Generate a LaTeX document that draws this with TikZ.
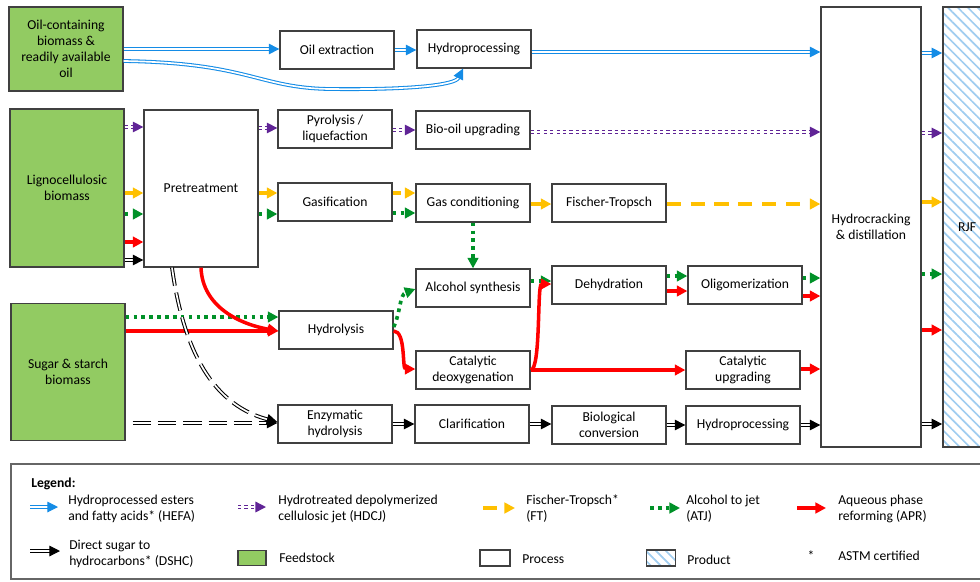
\documentclass[tikz,border=0pt]{standalone}
\usepackage{fontspec}
\setmainfont{Carlito}
\usepackage{tikz}
\usetikzlibrary{arrows.meta,patterns.meta}
\definecolor{feedgreen}{RGB}{146,203,98}
\definecolor{boxgray}{RGB}{64,64,64}
\definecolor{hefablue}{RGB}{20,140,230}
\definecolor{hdcjpurple}{RGB}{96,36,150}
\definecolor{ftorange}{RGB}{255,192,0}
\definecolor{atjgreen}{RGB}{0,145,40}
\definecolor{aprred}{RGB}{255,0,0}
\definecolor{hatchblue}{RGB}{160,205,240}
\tikzstyle{box}=[draw=boxgray,line width=0.9pt,align=center,inner sep=2pt]
\tikzstyle{proc}=[box,fill=white,minimum width=2.85cm,minimum height=0.95cm]
\tikzstyle{feed}=[box,fill=feedgreen,minimum width=2.85cm]
\tikzstyle{prod}=[box,pattern={Lines[angle=-45,distance=5pt,line width=1.2pt]},pattern color=hatchblue]
\tikzstyle{tip}=[-{Triangle[length=7.5pt,width=7.5pt]}]
\tikzstyle{hefa}=[tip,draw=hefablue,double=white,line width=0.75pt,double distance=1.2pt]
\tikzstyle{hdcj}=[tip,draw=hdcjpurple,double=white,line width=1pt,double distance=1pt,dash pattern=on 2.4pt off 2.2pt]
\tikzstyle{ft}=[tip,draw=ftorange,line width=2.5pt]
\tikzstyle{atj}=[tip,draw=atjgreen,line width=2.6pt,dash pattern=on 2.6pt off 3pt]
\tikzstyle{apr}=[tip,draw=aprred,line width=2.5pt]
\tikzstyle{dshc}=[tip,draw=black,double=white,line width=0.75pt,double distance=1.2pt]
\tikzstyle{legtext}=[anchor=west,align=left,inner sep=0pt]

\begin{document}
\begin{tikzpicture}[x=0.025cm,y=-0.025cm,font=\fontsize{9.7}{11.3}\selectfont]
\useasboundingbox (0,0) rectangle (980,581);
\clip (0,0) rectangle (980,581);

% feedstocks
\node[feed,minimum height=2.1cm] (oil) at (66,49) {Oil-containing\\biomass \&\\readily available\\oil};
\node[feed,minimum height=3.95cm] (ligno) at (67,188) {Lignocellulosic\\biomass};
\node[feed,minimum height=3.425cm] (sugar) at (68,372) {Sugar \& starch\\biomass};

% processes
\node[proc,minimum height=3.925cm] (pretreat) at (201,188.5) {Pretreatment};
\node[proc] (oilext) at (337,50) {Oil extraction};
\node[proc] (hydroA) at (474,49) {Hydroprocessing};
\node[proc] (pyro) at (335,129) {Pyrolysis /\\liquefaction};
\node[proc] (biooil) at (473,130) {Bio-oil upgrading};
\node[proc] (gasif) at (335,202) {Gasification};
\node[proc] (gascond) at (473,203) {Gas conditioning};
\node[proc] (ftproc) at (609,203) {Fischer-Tropsch};
\node[proc] (alcsyn) at (473,288) {Alcohol synthesis};
\node[proc] (dehyd) at (609,285) {Dehydration};
\node[proc] (hydrol) at (336,330) {Hydrolysis};
\node[proc] (catdeox) at (473,370) {Catalytic\\deoxygenation};
\node[proc] (enzym) at (335,424) {Enzymatic\\hydrolysis};
\node[proc] (clar) at (472,424) {Clarification};
\node[proc] (bioconv) at (609,425) {Biological\\conversion};
\node[proc] (oligo) at (745,285) {Oligomerization};
\node[proc] (catupg) at (743,370) {Catalytic\\upgrading};
\node[proc] (hydroB) at (743,425) {Hydroprocessing};
\node[proc,minimum width=2.5cm,minimum height=11cm] (hcd) at (871,227) {Hydrocracking\\\& distillation};
\node[prod,minimum width=1.2cm,minimum height=11cm] (rjf) at (967,227) {RJF};

% HEFA
\foreach \a/\b/\y in {oil/oilext/49, oilext/hydroA/50, hydroA/hcd/52, hcd/rjf/53}
  \draw[hefa] (\a.east |- 0,\y) -- (\b.west |- 0,\y);
\draw[hefa] (oil.east |- 0,61) .. controls (250,63) and (258,88) .. (330,89)
  .. controls (410,90) and (455,85) .. (hydroA.south -| 463,0);

% HDCJ
\foreach \a/\b/\y in {ligno/pretreat/127, pretreat/pyro/128, pyro/biooil/130, biooil/hcd/132, hcd/rjf/133}
  \draw[hdcj] (\a.east |- 0,\y) -- (\b.west |- 0,\y);

% FT
\foreach \a/\b/\y in {ligno/pretreat/193, pretreat/gasif/193, gascond/ftproc/204, hcd/rjf/202}
  \draw[ft] (\a.east |- 0,\y) -- (\b.west |- 0,\y);
\draw[ft,dash pattern=on 6pt off 5pt] (gasif.east |- 0,193) -- (gascond.west |- 0,193);
\draw[ft,dash pattern=on 10pt off 7pt] (ftproc.east |- 0,204) -- (hcd.west |- 0,204);

% ATJ
\foreach \a/\b/\y in {ligno/pretreat/214, pretreat/gasif/214, gasif/gascond/213, sugar/hydrol/317, alcsyn/dehyd/281, dehyd/oligo/276, oligo/hcd/278, hcd/rjf/274}
  \draw[atj] (\a.east |- 0,\y) -- (\b.west |- 0,\y);
\draw[atj] (gascond.south) -- (gascond.south |- alcsyn.north);
\draw[atj] (hydrol.east |- 0,327) to[out=65,in=200] (alcsyn.west |- 0,289);

% APR
\foreach \a/\b/\y in {ligno/pretreat/242, sugar/hydrol/331, catdeox/catupg/370, dehyd/oligo/291, oligo/hcd/296, catupg/hcd/369, hcd/rjf/330}
  \draw[apr] (\a.east |- 0,\y) -- (\b.west |- 0,\y);
\draw[apr] (pretreat.south) to[out=-88,in=170] (hydrol.west |- 0,331);
\draw[apr] (hydrol.east |- 0,331) .. controls (406,331) and (402,369) .. (catdeox.west |- 0,369);
\draw[apr] (catdeox.east |- 0,370) .. controls (541,370) and (537,284) .. (dehyd.west |- 0,284);

% DSHC
\foreach \a/\b/\y in {ligno/pretreat/260, enzym/clar/424, clar/bioconv/424, bioconv/hydroB/425, hydroB/hcd/425, hcd/rjf/424}
  \draw[dshc] (\a.east |- 0,\y) -- (\b.west |- 0,\y);
\draw[dshc,dash pattern=on 13pt off 5pt,shorten <=5pt] (sugar.east |- 0,423) -- (enzym.west |- 0,423);
\draw[dshc,dash pattern=on 13pt off 5pt] (pretreat.south -| 172,0) to[out=-82,in=165] (enzym.west |- 0,422);

% legend
\draw[draw=boxgray!80,line width=0.9pt] (11,464) rectangle (1000,579);
\node[legtext,font=\fontsize{9.7}{11.3}\selectfont\bfseries] (legtitle) at (31,484) {Legend:};
\coordinate (hefaA) at (30,507);  \coordinate (hefaB) at (58,507);
\coordinate (hdcjA) at (238,507); \coordinate (hdcjB) at (266,507);
\coordinate (ftA) at (483,508);   \coordinate (ftB) at (515,508);
\coordinate (atjA) at (650,508);  \coordinate (atjB) at (680,508);
\coordinate (aprA) at (797,508);  \coordinate (aprB) at (826,508);
\coordinate (dshcA) at (30,551);  \coordinate (dshcB) at (60,551);
\draw[hefa] (hefaA) -- (hefaB);
\draw[hdcj] (hdcjA) -- (hdcjB);
\draw[ft,dash pattern=on 10pt off 6pt] (ftA) -- (ftB);
\draw[atj] (atjA) -- (atjB);
\draw[apr] (aprA) -- (aprB);
\draw[dshc] (dshcA) -- (dshcB);
\node[legtext] (hefatxt) at (68,509) {Hydroprocessed esters\\and fatty acids* (HEFA)};
\node[legtext] (hdcjtxt) at (278,509) {Hydrotreated depolymerized\\cellulosic jet (HDCJ)};
\node[legtext] (fttxt) at (526,509) {Fischer-Tropsch*\\(FT)};
\node[legtext] (atjtxt) at (686,509) {Alcohol to jet\\(ATJ)};
\node[legtext] (aprtxt) at (838,509) {Aqueous phase\\reforming (APR)};
\node[legtext] (dshctxt) at (69,554) {Direct sugar to\\hydrocarbons* (DSHC)};
\node[feed,minimum width=0.7cm,minimum height=0.38cm] (feedkey) at (252,558) {};
\node[proc,minimum width=0.75cm,minimum height=0.4cm] (prockey) at (495,558) {};
\node[prod,minimum width=0.72cm,minimum height=0.4cm] (prodkey) at (661,558) {};
\node[legtext] (feedtxt) at (279,558) {Feedstock};
\node[legtext] (proctxt) at (522,559) {Process};
\node[legtext] (prodtxt) at (687,560) {Product};
\node (star) at (811,556) {*};
\node[legtext] (startxt) at (838,556) {ASTM certified};
\end{tikzpicture}
\end{document}
